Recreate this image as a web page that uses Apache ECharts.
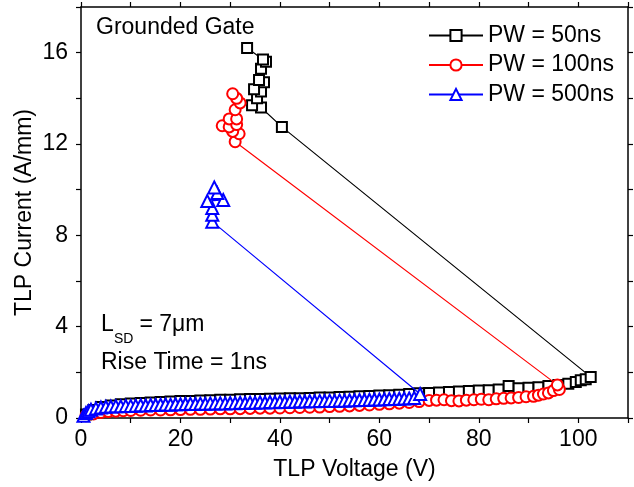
<!DOCTYPE html>
<html>
<head>
<meta charset="utf-8">
<script src="https://cdn.jsdelivr.net/npm/echarts@6/dist/echarts.min.js"></script>
<style>html,body{margin:0;padding:0;background:#fff}#c{width:634px;height:487px}</style>
</head>
<body>
<div id="c"></div>
<script>
// ---- Data ----
var seriesNames = ['PW = 50ns', 'PW = 100ns', 'PW = 500ns'];

// PW = 50ns : voltage (V) and current (A/mm)
var v50 = [1,2.5,4,6,8,10,12,14,16,18,20,22,24,26,28,30,32,34,36,38,40,42,44,46,48,50,52,54,56,58,60,62,64,66,68,70,72,74,76,78,80,82,84,86,88,90,92,94,96,98,99.5,100.5,101.5,102.5,
           40.4,36.2,34.4,35.4,36.2,34.8,36.8,35.8,36.2,37.2,36.6,33.4];
var i50 = [0.15,0.35,0.48,0.55,0.6,0.63,0.66,0.68,0.7,0.72,0.74,0.75,0.77,0.78,0.8,0.8,0.82,0.83,0.83,0.84,0.85,0.86,0.86,0.88,0.9,0.9,0.92,0.93,0.95,0.96,0.98,1.0,1.02,1.05,1.08,1.1,1.12,1.14,1.16,1.18,1.2,1.22,1.25,1.4,1.3,1.32,1.35,1.4,1.45,1.5,1.58,1.65,1.7,1.8,
           12.75,13.6,13.7,14.0,14.3,14.4,14.7,14.8,15.3,15.6,15.7,16.2];

// PW = 100ns
var v100 = [1,2.5,4,5.5,7,8.5,10,12,14,16,18,20,22,24,26,28,30,32,34,36,38,40,42,44,46,48,50,52,54,56,58,60,62,64,66,68,70,71.5,73,74.5,76,77.5,79,80.5,82,83.5,85,86.5,88,89.5,91,92,93,94,95,96.2,95.8,
            31.0,31.8,30.5,28.4,29.8,31.3,29.8,31.3,31.0,32.0,31.3,30.5];
var i100 = [0.1,0.18,0.24,0.28,0.3,0.32,0.33,0.34,0.35,0.35,0.36,0.37,0.38,0.38,0.39,0.4,0.4,0.41,0.42,0.43,0.43,0.44,0.45,0.46,0.47,0.48,0.5,0.51,0.53,0.55,0.57,0.6,0.62,0.65,0.68,0.72,0.77,0.78,0.8,0.76,0.75,0.78,0.8,0.82,0.8,0.84,0.86,0.88,0.9,0.93,0.95,1.0,1.05,1.1,1.2,1.25,1.45,
            12.1,12.45,12.55,12.8,12.75,12.85,13.1,13.1,13.5,13.8,14.0,14.2];

// PW = 500ns
var v500 = [0.5,1,1.5,2,3,4,5,6,7,8,9,10,11,12,13,14,15,16,17,18,19,20,21,22,23,24,25,26,27,28,29,30,31,32,33,34,35,36,37,38,39,40,41,42,43,44,45,46,47,48,49,50,51,52,53,54,55,56,57,58,59,60,61,62,63,64,65,66,67,68.2,
            26.4,26.4,26.4,25.4,28.6,27.4,26.8];
var i500 = [0.1,0.22,0.3,0.36,0.42,0.46,0.49,0.5,0.52,0.51,0.53,0.53,0.54,0.56,0.55,0.57,0.57,0.58,0.59,0.58,0.6,0.6,0.61,0.62,0.61,0.63,0.62,0.64,0.63,0.65,0.64,0.66,0.65,0.67,0.66,0.68,0.67,0.69,0.68,0.7,0.69,0.71,0.7,0.72,0.71,0.73,0.72,0.74,0.73,0.75,0.74,0.76,0.75,0.77,0.76,0.78,0.78,0.79,0.79,0.8,0.81,0.81,0.82,0.83,0.83,0.84,0.85,0.86,0.88,1.05,
            8.6,8.9,9.2,9.5,9.55,9.85,10.1];

var xTicks = {min: 0, max: 110, step: 10, labelEvery: 20};
var yTicks = {min: 0, max: 18, step: 2, labelEvery: 4};

// ---- Chart ----
function zip(a, b) { return a.map(function (v, k) { return [v, b[k]]; }); }
var FONT = 'Liberation Sans, Arial, sans-serif';
var FS = 23;
var chart = echarts.init(document.getElementById('c'), null, {renderer: 'canvas'});

function axisBase(extra) {
  var base = {
    type: 'value',
    axisLine: {show: true, onZero: false, lineStyle: {color: '#000', width: 1.5}},
    axisTick: {show: true, inside: false, length: 5, lineStyle: {color: '#000', width: 1.2}},
    splitLine: {show: false},
    minorTick: {show: false}
  };
  for (var k in extra) base[k] = extra[k];
  return base;
}

var colors = ['#000000', '#ff0000', '#0000ff'];
var symbols = ['rect', 'circle', 'triangle'];
var sizes = [10, 11, 12];
var datas = [zip(v50, i50), zip(v100, i100), zip(v500, i500)];

var series = seriesNames.map(function (n, k) {
  return {
    name: n,
    type: 'line',
    data: datas[k],
    symbol: symbols[k],
    symbolSize: sizes[k],
    showAllSymbol: true,
    animation: false,
    color: colors[k],
    lineStyle: {color: colors[k], width: 1.2},
    itemStyle: {color: '#fff', borderColor: colors[k], borderWidth: 2},
    z: 2 + k
  };
});

chart.setOption({
  animation: false,
  backgroundColor: '#fff',
  grid: {left: 81, right: 6, top: 7, bottom: 69, containLabel: false},
  legend: {
    orient: 'vertical',
    left: 423, top: 19,
    itemWidth: 54, itemHeight: 14, itemGap: 6.5,
    textStyle: {fontFamily: FONT, fontSize: FS, color: '#000'},
    data: seriesNames
  },
  xAxis: [
    axisBase({
      position: 'bottom', min: xTicks.min, max: xTicks.max, interval: xTicks.step,
      name: 'TLP Voltage (V)', nameLocation: 'middle', nameGap: 40, nameMoveOverlap: false,
      nameTextStyle: {fontFamily: FONT, fontSize: FS, color: '#000'},
      axisLabel: {fontFamily: FONT, fontSize: FS, color: '#000', margin: 10,
        formatter: function (v) { return v % xTicks.labelEvery === 0 ? String(v) : ''; }}
    }),
    axisBase({
      position: 'top', min: xTicks.min, max: xTicks.max, interval: xTicks.step,
      axisLabel: {show: false}
    })
  ],
  yAxis: [
    axisBase({
      position: 'left', min: yTicks.min, max: yTicks.max, interval: yTicks.step,
      name: 'TLP Current (A/mm)', nameLocation: 'middle', nameGap: 45, nameMoveOverlap: false,
      nameTextStyle: {fontFamily: FONT, fontSize: FS, color: '#000'},
      axisLabel: {fontFamily: FONT, fontSize: FS, color: '#000', margin: 13,
        formatter: function (v) { return v % yTicks.labelEvery === 0 ? String(v) : ''; }}
    }),
    axisBase({
      position: 'right', min: yTicks.min, max: yTicks.max, interval: yTicks.step,
      axisLabel: {show: false}
    })
  ],
  graphic: [
    {type: 'text', left: 96, top: 16, style: {text: 'Grounded Gate', font: FS + 'px ' + FONT, fill: '#000'}},
    {type: 'text', left: 101, top: 313, style: {text: 'L', font: FS + 'px ' + FONT, fill: '#000'}},
    {type: 'text', left: 114, top: 332, style: {text: 'SD', font: '14px ' + FONT, fill: '#000'}},
    {type: 'text', left: 133, top: 313, style: {text: ' = 7\u03bcm', font: FS + 'px ' + FONT, fill: '#000'}},
    {type: 'text', left: 101, top: 351, style: {text: 'Rise Time = 1ns', font: FS + 'px ' + FONT, fill: '#000'}}
  ],
  series: series
});
</script>
</body>
</html>
